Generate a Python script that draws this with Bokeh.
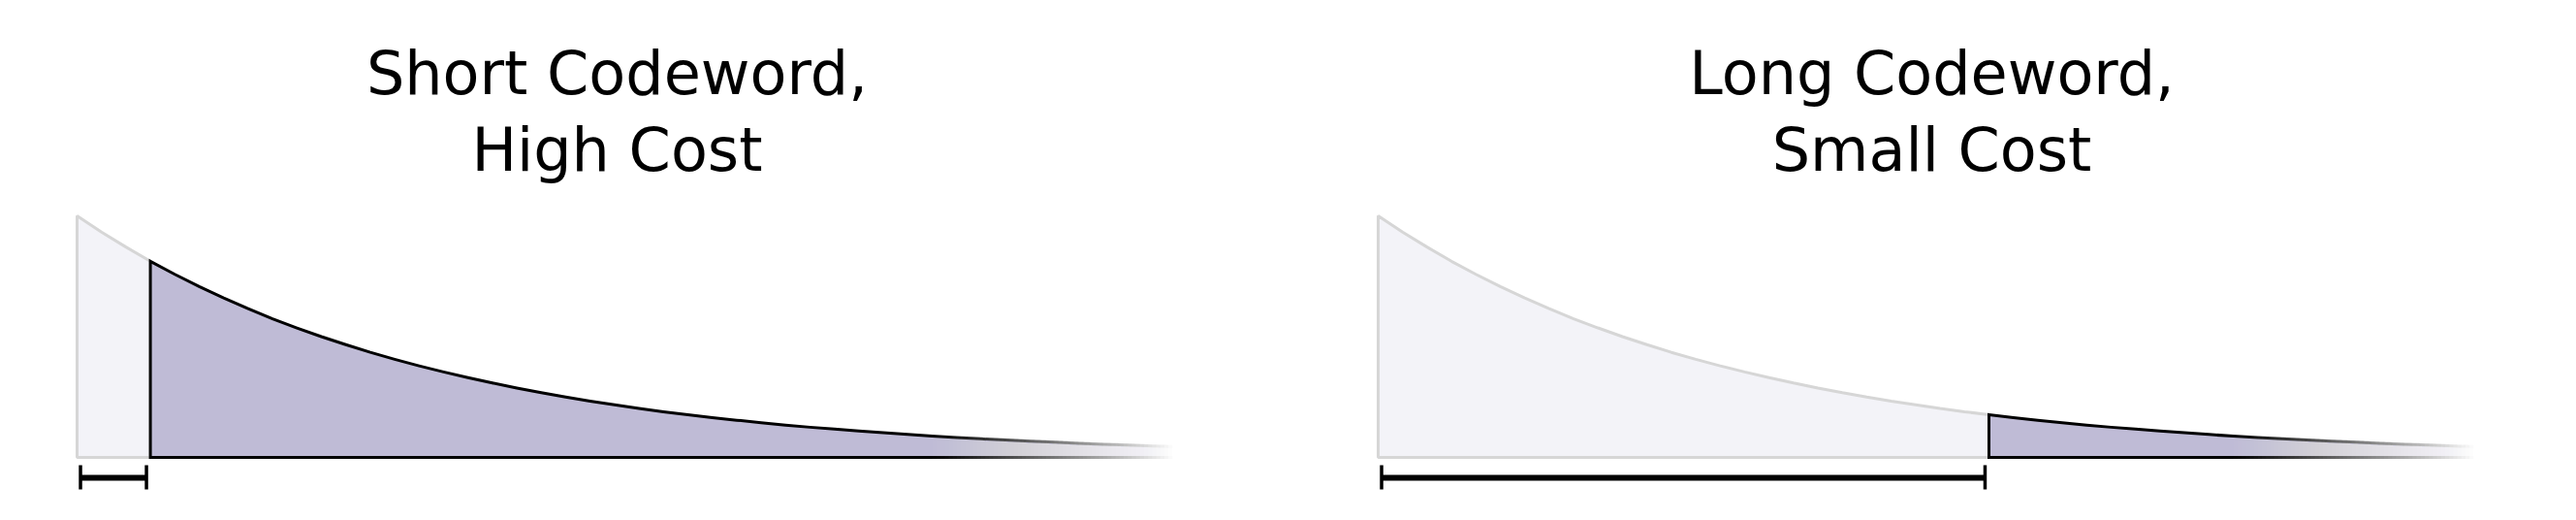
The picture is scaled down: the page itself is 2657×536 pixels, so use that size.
from bokeh.plotting import figure
from bokeh.layouts import row
from bokeh.models import Range1d
from bokeh.core.properties import value
from bokeh.embed import file_html
from bokeh.resources import INLINE
import numpy as np

# ---- data ----
# codeword length (x) and probability density height (y)
length = [0.0, 0.1, 0.2, 0.3, 0.4, 0.5, 0.6, 0.7, 0.8, 0.9,
          1.0, 1.1, 1.2, 1.3, 1.4, 1.5, 1.6, 1.7, 1.8, 1.9,
          2.0, 2.1, 2.2, 2.3, 2.4, 2.5, 2.6, 2.7, 2.8, 2.9,
          3.0, 3.1, 3.2, 3.3, 3.4, 3.5, 3.6, 3.7, 3.8, 3.9,
          4.0, 4.1, 4.2, 4.3, 4.4, 4.5]
prob = [1.000, 0.933, 0.871, 0.812, 0.758, 0.707, 0.660, 0.616, 0.574, 0.536,
        0.500, 0.467, 0.435, 0.406, 0.379, 0.354, 0.330, 0.308, 0.287, 0.268,
        0.250, 0.233, 0.218, 0.203, 0.189, 0.177, 0.165, 0.154, 0.144, 0.134,
        0.125, 0.117, 0.109, 0.102, 0.095, 0.088, 0.082, 0.077, 0.072, 0.067,
        0.063, 0.058, 0.054, 0.051, 0.047, 0.044]
cut_short = 0.3
cut_long = 2.5
titles_left = ["Short Codeword,", "High Cost"]
titles_right = ["Long Codeword,", "Small Cost"]

LIGHT_FILL = "#f3f3f8"
LIGHT_LINE = "#d6d6d6"
DARK_FILL = "#bfbbd6"

PX_X = 252.0
PX_Y = 249.0
H = 520
BASE_PX = 471
ORIG_PX = 79


def make_panel(width, cut, lines, title_x):
    x0 = -ORIG_PX / PX_X
    x1 = (width - ORIG_PX) / PX_X
    y1 = BASE_PX / PX_Y
    y0 = -(H - BASE_PX) / PX_Y
    p = figure(width=width, height=H, output_backend="svg", toolbar_location=None,
               x_range=Range1d(x0, x1), y_range=Range1d(y0, y1),
               x_axis_location=None, y_axis_location=None, min_border=0,
               outline_line_color=None, background_fill_color="white",
               border_fill_color="white")
    p.grid.visible = False

    xs = np.array(length)
    ys = np.array(prob)
    ci = int(np.argmin(np.abs(xs - cut)))
    # light region (before the codeword cut)
    lx = list(xs[:ci + 1]) + [xs[ci], xs[0]]
    ly = list(ys[:ci + 1]) + [0.0, 0.0]
    p.patch(lx, ly, fill_color=LIGHT_FILL, line_color=LIGHT_LINE, line_width=3)
    # dark region (after the cut)
    dx = list(xs[ci:]) + [xs[-1], xs[ci]]
    dy = list(ys[ci:]) + [0.0, 0.0]
    p.patch(dx, dy, fill_color=DARK_FILL, line_color="black", line_width=3,
            line_join="miter")

    # fade to white at the tail
    f0, f1 = 3.5, 4.5
    n = 60
    edges = np.linspace(f0, f1, n + 1)
    T = 1 - (edges - f0) / (f1 - f0)
    alphas = []
    for i in range(1, n + 1):
        if T[i - 1] <= 0:
            alphas.append(1.0)
        else:
            alphas.append(1 - T[i] / T[i - 1])
    lefts = edges[1:] - (edges[1] - edges[0])
    p.quad(left=lefts, right=[4.9] * n, bottom=[-0.05] * n, top=[0.2] * n,
           fill_color="white", fill_alpha=alphas, line_color=None)

    # bracket showing the codeword length
    by = -0.0843
    bx0 = 0.014
    bx1 = cut - 0.016
    p.segment(x0=[bx0], y0=[by], x1=[bx1], y1=[by], line_color="black", line_width=6)
    p.segment(x0=[bx0, bx1], y0=[-0.032, -0.032], x1=[bx0, bx1], y1=[-0.1325, -0.1325],
              line_color="black", line_width=3.5)

    # title lines
    p.text(x=[title_x, title_x], y=[1.589, 1.275], text=lines,
           text_font=value("DejaVu Sans"), text_font_size="62px",
           text_align="center", text_baseline="alphabetic", text_color="black")
    return p


p1 = make_panel(1342, cut_short, titles_left, 2.21)
p2 = make_panel(1299, cut_long, titles_right, 2.266)
layout = row(p1, p2)

open("out.html", "w").write(file_html(layout, INLINE))
